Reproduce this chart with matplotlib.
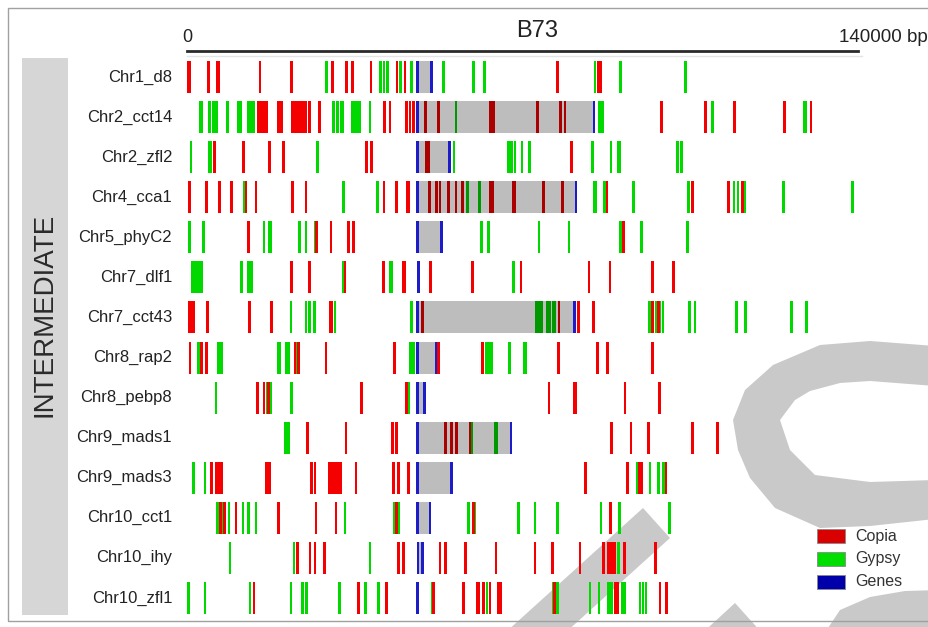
import matplotlib.pyplot as plt
from matplotlib.patches import Rectangle, Polygon

plt.rcParams['font.family'] = ['Liberation Sans', 'DejaVu Sans']

# loci in the panel, top to bottom
loci = ["Chr1_d8", "Chr2_cct14", "Chr2_zfl2", "Chr4_cca1", "Chr5_phyC2",
        "Chr7_dlf1", "Chr7_cct43", "Chr8_rap2", "Chr8_pebp8", "Chr9_mads1",
        "Chr9_mads3", "Chr10_cct1", "Chr10_ihy", "Chr10_zfl1"]

# element positions in kb (centre, or (centre, length) for long ones)
copia = [
    [(0.4, 0.9), 4.44, (6.53, 0.9), 15.23, 21.84, 30.31, 33.31, 34.57, 38.38,
     43.81, 45.5, 77.33, (86.05, 1.2)],
    [(15.81, 2.3), (19.40, 1.4), (22.05, 0.7), (22.74, 0.7), (23.43, 0.7),
     (24.14, 0.7), (24.68, 0.7), 25.51, 27.60, 41.24, 42.35, 45.83, 46.52,
     47.21, 49.79, 52.42, (63.56, 1.2), 73.07, 77.95, 78.85, 99.02, 108.20,
     114.17, 124.60, 130.17],
    [5.69, 11.74, 17.17, 20.09, 37.49, 38.45, 49.86, 50.42, 80.25],
    [0.48, 4.11, 6.74, 9.32, 12.31, 14.39, 22.05, 24.82, 41.09, 43.74,
     (46.10, 0.7), 50.54, 52.07, 52.77, 54.51, 56.11, 57.51, 63.2, 63.8,
     (68.17, 0.9), 74.32, 78.37, 87.61, 105.49, 112.92, 115.92],
    [12.79, 27.06, 30.04, 33.65, 34.69, 91.01],
    [21.84, 25.51, 32.96, 40.95, (45.23, 0.9), 50.84, 59.60, 69.67, 83.86,
     88.24, 97.06, 101.44],
    [(0.98, 1.4), 4.23, 13.0, 17.67, (30.04, 0.7), 49.17, 77.60,
     (81.63, 0.7), 84.75, 97.15, 98.31],
    [0.63, 3.07, 4.11, 22.53, 23.22, 29.0, 43.24, 52.42, 61.68, 77.45,
     85.59, 87.76, 97.06],
    [14.75, 16.06, 16.96, 36.44, 45.83, 75.51, (80.87, 0.8), 91.37, 98.52],
    [25.18, 33.17, 42.83, 43.74, (53.99, 0.6), 55.22, 56.26, 59.03, 88.59,
     92.62, 96.23, 105.49, 110.70],
    [5.15, (6.68, 1.7), (16.85, 1.2), 26.01, 26.70, (30.94, 2.9), 35.25,
     43.03, 44.08, (46.16, 0.7), 83.17, 91.85, (94.66, 1.0), 99.92],
    [7.03, 7.78, 10.22, 19.05, 26.91, 31.08, 43.66, 59.72, (88.41, 0.6)],
    [(23.11, 0.6), 25.66, 26.70, 28.64, 44.08, 45.12, 52.78, 53.96, 58.14,
     64.46, 72.59, (76.20, 0.7), 81.98, 86.84, (88.65, 1.9), (91.22, 0.7),
     97.77],
    [13.98, 35.73, 41.66, 51.38, 57.64, (60.70, 0.8), (61.81, 0.7), 63.21,
     (65.13, 1.0), 76.66, (89.60, 1.0), 98.67, 100.07],
]

gypsy = [
    [29.14, 40.41, 41.09, 41.78, 44.6, 46.87, 53.47, 59.72, 62.02, 85.11,
     90.47, 104.03],
    [(2.92, 0.9), 4.65, (5.84, 1.4), 8.49, (10.95, 1.2), 12.79, 13.35, 13.83,
     30.52, (31.4, 0.8), (32.33, 0.8), (35.25, 2.0), 38.17, 56.11,
     (86.42, 1.2), 109.66, (128.91, 0.8)],
    [0.83, (4.80, 0.9), 27.26, 55.70, 67.02, 67.73, 68.42, 69.88, 71.40,
     84.63, 88.45, (90.18, 0.8), 102.28, 103.19],
    [11.95, 32.60, 39.78, 58.47, 60.97, (85.17, 0.9), 87.13, 93.10, 104.57,
     114.10, 115.0, (116.23, 1.0), 124.39, 138.87],
    [0.48, 3.40, 16.06, (17.31, 0.7), 23.43, 24.82, 26.70, 61.47, 62.85,
     73.43, 79.69, 90.47, 94.85, 104.36],
    [(2.02, 2.5), 11.41, 12.79, 13.50, 32.60, (42.62, 0.8), 68.07],
    [21.69, 24.82, 25.51, 26.56, 30.87, 46.87, 72.80, 73.28, 73.99, 75.24,
     75.72, 76.41, 76.76, 96.44, 97.98, 98.67, 99.29, (104.82, 0.6), 105.97,
     114.67, 116.54, (126.14, 0.7), 129.27],
    [(2.36, 0.7), (6.88, 1.1), (19.19, 1.0), (20.96, 1.0), 22.88,
     (46.94, 1.1), (63.0, 1.6), 67.23, (70.5, 0.7)],
    [6.05, (17.11, 1.1), 21.84, 46.16],
    [(20.86, 1.2), 59.39, (64.46, 0.7)],
    [1.31, 3.75, 93.93, 96.58, 98.31, (99.36, 0.7)],
    [(6.40, 0.7), 7.36, 8.76, (11.68, 0.6), 12.79, 14.39, 32.96, 43.24,
     44.08, 58.68, 60.08, 69.11, 72.59, 77.25, 86.36, 90.18, 100.61],
    [8.97, 22.36, 38.17, (89.97, 0.7)],
    [0.27, 3.75, 13.14, 21.69, 24.05, 24.97, 31.77, 37.28, 39.91, 51.11,
     62.58, 76.41, 77.25, 84.07, 85.95, 87.88, 88.59, 90.74, 91.31, 94.50,
     95.12, 95.75],
]

genes = [
    [48.12, 51.04], [48.12, 84.90], [48.12, 54.72], [48.12, 81.15],
    [48.12, 53.13], [48.25], [48.12, 80.79], [48.12, 51.94], [48.12, 49.50],
    [48.12, 67.59], [48.12, 55.22], [48.12, 50.69], [48.19, 49.17], [48.04],
]

# shaded gene region of each locus (kb), None where there is none
gene_region = [(48.1, 51.0), (48.1, 84.9), (48.1, 54.7), (48.1, 81.2),
               (48.1, 53.1), None, (48.1, 80.8), (48.1, 51.9), (48.1, 49.5),
               (48.1, 67.6), (48.1, 55.2), (48.1, 50.7), (48.1, 49.2), None]

span_kb = 140

colors = {"Copia": "#f50000", "Gypsy": "#00d800", "Genes": "#1c1cc8"}
legend_colors = {"Copia": "#d80000", "Gypsy": "#00dd00", "Genes": "#0000aa"}
thin = 0.55
bar_h = 0.8

W, H = 929, 627
fig = plt.figure(figsize=(W / 100, H / 100), dpi=100)


def fx(px):
    return px / W


def fy(py):
    return 1 - py / H


# background layer in pixel units for the faint watermark strokes
bg = fig.add_axes([0, 0, 1, 1], zorder=-1)
bg.set_xlim(0, W)
bg.set_ylim(H, 0)
bg.axis("off")
wm = "#c9c9c9"
bg.add_patch(Polygon([(935, 346), (870, 341), (820, 345), (773, 365),
                      (745, 390), (733, 420), (738, 450), (750, 478),
                      (775, 508), (820, 528), (870, 526), (935, 519),
                      (935, 480), (870, 482), (815, 475), (790, 450),
                      (780, 420), (795, 400), (810, 391), (840, 383),
                      (870, 381), (935, 386)], closed=True, color=wm, lw=0))
bg.add_patch(Polygon([(643, 508), (670, 538), (480, 710), (453, 680)],
                     closed=True, color=wm, lw=0))
bg.add_patch(Polygon([(735, 603), (762, 633), (700, 690), (673, 660)],
                     closed=True, color=wm, lw=0))
bg.add_patch(Polygon([(820, 640), (840, 610), (870, 597), (905, 591),
                      (940, 590), (940, 640)], closed=True, color=wm, lw=0))

# outer frame and the grey side band
fig.patches.append(Rectangle((fx(8), fy(621)), fx(930) - fx(8), fy(8) - fy(621),
                             transform=fig.transFigure, fill=False,
                             edgecolor="#a0a0a0", lw=1.0))
fig.patches.append(Rectangle((fx(22), fy(615)), fx(68) - fx(22), fy(58) - fy(615),
                             transform=fig.transFigure, facecolor="#d6d6d6",
                             edgecolor="none"))
fig.text(fx(45), fy(315), "INTERMEDIATE", rotation=90, ha="center",
         va="center", fontsize=20, color="#2a2a2a")

ax = fig.add_axes([fx(187), fy(618), fx(858) - fx(187), fy(57) - fy(618)])
ax.set_xlim(0, span_kb)
ax.set_ylim(len(loci) - 0.5, -0.5)
ax.axis("off")


def shade(c, f=0.7):
    r, g, b = plt.matplotlib.colors.to_rgb(c)
    return (r * f, g * f, b * f)


for i, name in enumerate(loci):
    ax.text(-3.1, i, name, ha="right", va="center", fontsize=12,
            color="#222222", clip_on=False)
    box = gene_region[i]
    if box is not None:
        ax.bar(box[0], bar_h, width=box[1] - box[0], bottom=i - bar_h / 2,
               align="edge", color="#bdbdbd", zorder=1)
    for kind, data in (("Gypsy", gypsy), ("Copia", copia), ("Genes", genes)):
        for el in data[i]:
            c, w = (el, thin) if not isinstance(el, tuple) else el
            col = colors[kind]
            if box is not None and box[0] + 0.4 < c < box[1] - 0.4:
                col = shade(col)
            ax.bar(c, bar_h, width=w, bottom=i - bar_h / 2, color=col,
                   linewidth=0, zorder=2)

# scale bar across the top
fig.add_artist(plt.Line2D([fx(187), fx(858)], [fy(51), fy(51)],
                          transform=fig.transFigure, color="#2a2a2a", lw=2))
fig.add_artist(plt.Line2D([fx(187), fx(862)], [fy(56), fy(56)],
                          transform=fig.transFigure, color="#e4e4e4", lw=1))
fig.text(fx(187), fy(38), "0", ha="center", va="center", fontsize=13,
         color="#222222")
fig.text(fx(839), fy(38), "140000 bp", ha="left", va="center", fontsize=13.5,
         color="#222222")
fig.text(fx(537), fy(31), "B73", ha="center", va="center", fontsize=17,
         color="#222222")

# legend
for k, (name, col) in enumerate(legend_colors.items()):
    y0 = 529 + 23 * k
    fig.patches.append(Rectangle((fx(817), fy(y0 + 14)), fx(845) - fx(817),
                                 fy(y0) - fy(y0 + 14), transform=fig.transFigure,
                                 facecolor=col, edgecolor="#888888", lw=0.6))
    fig.text(fx(855), fy(y0 + 7), name, ha="left", va="center", fontsize=11.5,
             color="#333333")

fig.savefig("out.png", dpi=100)
